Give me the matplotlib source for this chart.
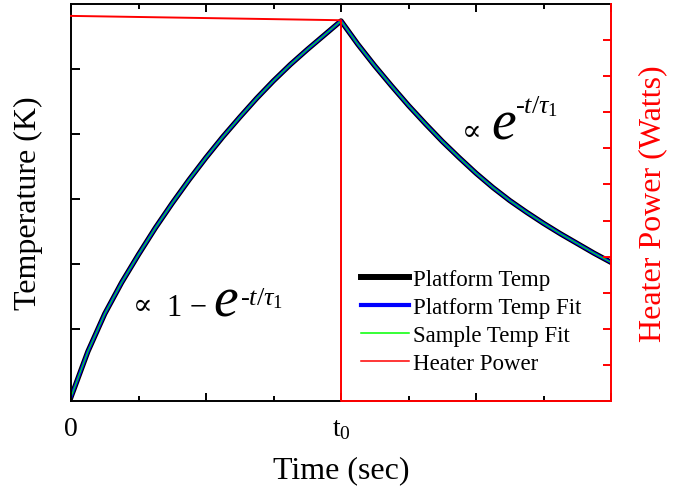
import matplotlib
matplotlib.use('Agg')
import matplotlib.pyplot as plt

# values (time in units of t0/4)
time_rise = [0.0, 0.25, 0.5, 0.75, 1.0, 1.25, 1.5, 1.75, 2.0,
             2.25, 2.5, 2.75, 3.0, 3.25, 3.5, 3.75, 4.0]
temp_rise = [-0.04, 0.66, 1.24, 1.72, 2.15, 2.56, 2.94, 3.30, 3.64,
             3.96, 4.26, 4.55, 4.82, 5.07, 5.30, 5.52, 5.74]
time_decay = [4.0, 4.25, 4.5, 4.75, 5.0, 5.25, 5.5, 5.75, 6.0,
              6.25, 6.5, 6.75, 7.0, 7.25, 7.5, 7.75, 8.0]
temp_decay = [5.74, 5.38, 5.05, 4.74, 4.44, 4.16, 3.89, 3.64, 3.40,
              3.18, 2.98, 2.80, 2.63, 2.47, 2.32, 2.17, 2.03]

heater_time = [0.0, 4.0, 4.0, 8.0]
heater_power = [10.67, 10.55, 0.0, 0.0]

x_major = [0, 2, 4, 6, 8]
x_minor = [1, 3, 5, 7]
x_labels = ['0', '', r'$\mathrm{t}_0$', '', '']
left_ticks = [1, 2, 3, 4, 5]
right_ticks = [1, 2, 3, 4, 5, 6, 7, 8, 9, 10]

legend_labels = ['Platform Temp', 'Platform Temp Fit', 'Sample Temp Fit', 'Heater Power']

plt.rcParams['font.family'] = ['Liberation Serif', 'DejaVu Serif']
plt.rcParams['mathtext.fontset'] = 'custom'
plt.rcParams['mathtext.rm'] = 'Liberation Serif'
plt.rcParams['mathtext.it'] = 'Liberation Serif:italic'

fig = plt.figure(figsize=(6.73, 4.89), dpi=100)
ax = fig.add_axes([0.1055, 0.1779, 0.8024, 0.8119])

t_all = time_rise + time_decay[1:]
T_all = temp_rise + temp_decay[1:]

l1, = ax.plot(t_all, T_all, color='black', lw=3.8, solid_joinstyle='round')
l2, = ax.plot(t_all, T_all, color='#0000ff', lw=2.2)
l3, = ax.plot(t_all, T_all, color='#00ff00', lw=0.8)

ax.set_xlim(0, 8)
ax.set_ylim(-0.1, 6.0)
ax.set_xticks(x_major)
ax.set_xticklabels(x_labels, fontsize=20)
ax.set_xticks(x_minor, minor=True)
ax.set_yticks(left_ticks)
ax.set_yticklabels([])
ax.tick_params(axis='x', which='both', direction='in', top=True, bottom=True, width=1.4, pad=11)
ax.tick_params(axis='x', which='major', length=6)
ax.tick_params(axis='x', which='minor', length=3.5)
ax.tick_params(axis='y', direction='in', left=True, right=False, length=6.5, width=1.4)
for s in ['left', 'top', 'bottom']:
    ax.spines[s].set_linewidth(1.4)
ax.spines['right'].set_visible(False)

ax.set_xlabel('Time (sec)', fontsize=23, labelpad=10)
ax.set_ylabel('Temperature (K)', fontsize=23, labelpad=17)

ax2 = ax.twinx()
l4, = ax2.plot(heater_time, heater_power, color='red', lw=1.4, clip_on=False, zorder=5)
ax2.set_ylim(0, 11)
ax2.set_yticks(right_ticks)
ax2.set_yticklabels([])
ax2.tick_params(axis='y', direction='in', length=5.5, width=1.4, color='red')
for s in ['left', 'top', 'bottom']:
    ax2.spines[s].set_visible(False)
ax2.spines['right'].set_color('red')
ax2.spines['right'].set_linewidth(1.4)
ax2.set_ylabel('Heater Power (Watts)', fontsize=23, color='red', labelpad=16)

# annotations
ax.text(0.132, 0.242, '\u221d', transform=ax.transAxes, fontsize=21,
        ha='center', va='center', family=['DejaVu Serif'])
ax.text(0.178, 0.2166, '1 \u2212', transform=ax.transAxes, fontsize=22, va='baseline')
ax.text(0.263, 0.2166, 'e', transform=ax.transAxes, fontsize=40, style='italic', va='baseline')
ax.text(0.313, 0.244, r'$\text{-}t/\tau_1$', transform=ax.transAxes, fontsize=19, va='baseline')

ax.text(0.743, 0.680, '\u221d', transform=ax.transAxes, fontsize=21,
        ha='center', va='center', family=['DejaVu Serif'])
ax.text(0.778, 0.66, 'e', transform=ax.transAxes, fontsize=40, style='italic', va='baseline')
ax.text(0.822, 0.728, r'$\text{-}t/\tau_1$', transform=ax.transAxes, fontsize=19, va='baseline')

leg = ax2.legend([l1, l2, l3, l4], legend_labels, loc='center left',
                 bbox_to_anchor=(0.498, 0.200), frameon=False, fontsize=16.5,
                 handlelength=2.1, handletextpad=0.2, labelspacing=0.3,
                 borderpad=0.4)
for line, w in zip(leg.get_lines(), [4.3, 3.0, 1.1, 1.1]):
    line.set_linewidth(w)

fig.savefig('out.png', dpi=100)
